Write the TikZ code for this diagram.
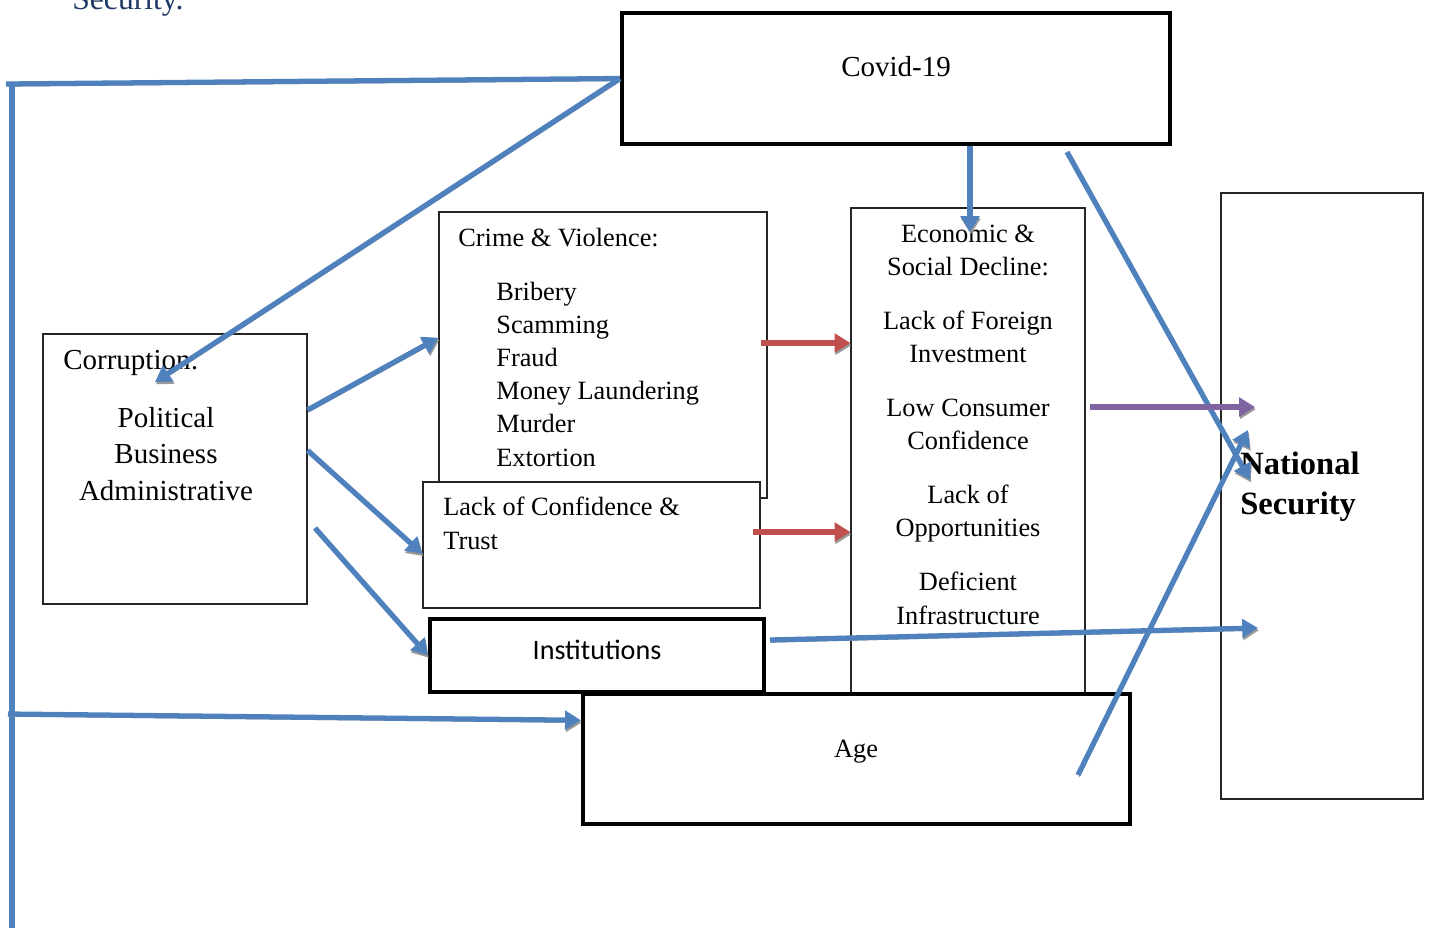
\documentclass[tikz,border=0pt]{standalone}
\usepackage{fontspec}
\setmainfont{Liberation Serif}
\newfontfamily\instfont{Carlito}
\usepackage{tikz}
\usetikzlibrary{positioning,arrows.meta}
\definecolor{linkblue}{RGB}{79,129,189}
\definecolor{linkred}{RGB}{192,80,77}
\definecolor{linkpurple}{RGB}{128,100,162}
\definecolor{headnavy}{RGB}{31,56,100}

\begin{document}
\begin{tikzpicture}[
x=0.02cm, y=-0.02cm,
thinbox/.style={draw=black!85, line width=0.7pt, fill=white, inner sep=0pt},
thickbox/.style={draw=black, line width=2.5pt, fill=white, inner sep=0pt},
txt/.style={inner sep=0pt, font=\fontsize{15}{18.8}\selectfont},
bigtxt/.style={inner sep=0pt, font=\fontsize{16.5}{20.7}\selectfont},
link/.style={line width=3pt, linkblue, preaction={draw=black!40, transform canvas={shift={(0.5pt,-1.3pt)}}}},
arrow/.style={link, -{Triangle[length=9pt, width=10.5pt]}},
redarrow/.style={arrow, linkred},
purplearrow/.style={arrow, linkpurple}
]
\useasboundingbox (0,0) rectangle (1430,927);
\node[anchor=base west, inner sep=0pt, font=\fontsize{18}{21}\selectfont, text=headnavy] (heading) at (72,9) {Security.};

% boxes
\node[thickbox, minimum width=10.96cm, minimum height=2.62cm] (covid) at (896,78.5) {};
\node[thinbox, minimum width=5.28cm, minimum height=5.4cm] (corr) at (175,469) {};
\node[thinbox, minimum width=6.56cm, minimum height=5.72cm] (crime) at (603,355) {};
\node[thinbox, minimum width=6.74cm, minimum height=2.52cm] (trust) at (591.5,545) {};
\node[thickbox, minimum width=6.68cm, minimum height=1.46cm] (inst) at (597,655.5) {};
\node[thinbox, minimum width=4.68cm, minimum height=9.72cm] (econ) at (968,451) {};
\node[thickbox, minimum width=10.94cm, minimum height=2.6cm] (age) at (856.5,759) {};
\node[thinbox, minimum width=4.04cm, minimum height=12.12cm] (natsec) at (1322,496) {};

% texts (base = last line)
\node[bigtxt, anchor=base] (covidtxt) at (896,76) {Covid-19};
\node[bigtxt, anchor=base west] (corrhead) at (63,369) {Corruption:};
\node[bigtxt, anchor=base, align=center] (corrlist) at (166,500) {Political\\Business\\Administrative};
\node[txt, anchor=base west] (crimehead) at (458,246) {Crime \& Violence:};
\node[txt, anchor=base west, align=left] (crimelist) at (496,466) {Bribery\\Scamming\\Fraud\\Money Laundering\\Murder\\Extortion};
\node[txt, anchor=base west, align=left] (trusttxt) at (443,549) {Lack of Confidence \&\\Trust};
\node[inner sep=0pt, font=\instfont\fontsize{16}{19}\selectfont, anchor=base] (insttxt) at (597,659) {Institutions};
\node[txt, anchor=base, align=center] (econtxt) at (968,624) {Economic \&\\Social Decline:\\[12pt]Lack of Foreign\\Investment\\[12pt]Low Consumer\\Confidence\\[12pt]Lack of\\Opportunities\\[12pt]Deficient\\Infrastructure};
\node[txt, anchor=base] (agetxt) at (856,757) {Age};
\node[inner sep=0pt, font=\bfseries\fontsize{18.5}{22.7}\selectfont, anchor=base west, align=left] (natsectxt) at (1240,514) {National\\Security};

% free ends
\coordinate (cornerTL) at (6,84);
\coordinate (trunkT) at (12,82);
\coordinate (trunkB) at (12,930);
\coordinate (ageIn) at (8,714);
\coordinate (corrTip) at (155,382);
\coordinate (econTip) at (970,232);
\coordinate (covidOut) at (1067,152);
\coordinate (nsTipA) at (1250,480);
\coordinate (ageOut) at (1078,775);
\coordinate (nsTipB) at (1248,430);
\coordinate (corrOut) at (315,528);
\coordinate (crimeOut) at (761,343);
\coordinate (trustOut) at (753,532);
\coordinate (econOut) at (1090,407);
\coordinate (nsTipC) at (1255,407);
\coordinate (instOut) at (770,640);
\coordinate (nsTipD) at (1258,628);

% connectors
\draw[link] (covid.west) -- (cornerTL);
\draw[link] (trunkT) -- (trunkB);
\draw[arrow] (ageIn) -- (age.172);
\draw[arrow] (covid.west) -- (corrTip);
\draw[arrow] (covid.south -| econTip) -- (econTip);
\draw[arrow] (covidOut) -- (nsTipA);
\draw[arrow] (ageOut) -- (nsTipB);
\draw[arrow] (corr.24) -- (crime.174);
\draw[arrow] (corr.8) -- (trust.183);
\draw[arrow] (corrOut) -- (inst.west);
\draw[redarrow] (crimeOut) -- (econ.west |- crimeOut);
\draw[redarrow] (trustOut) -- (trustOut -| econ.west);
\draw[purplearrow] (econOut) -- (nsTipC);
\draw[arrow] (instOut) -- (nsTipD);
\end{tikzpicture}
\end{document}
